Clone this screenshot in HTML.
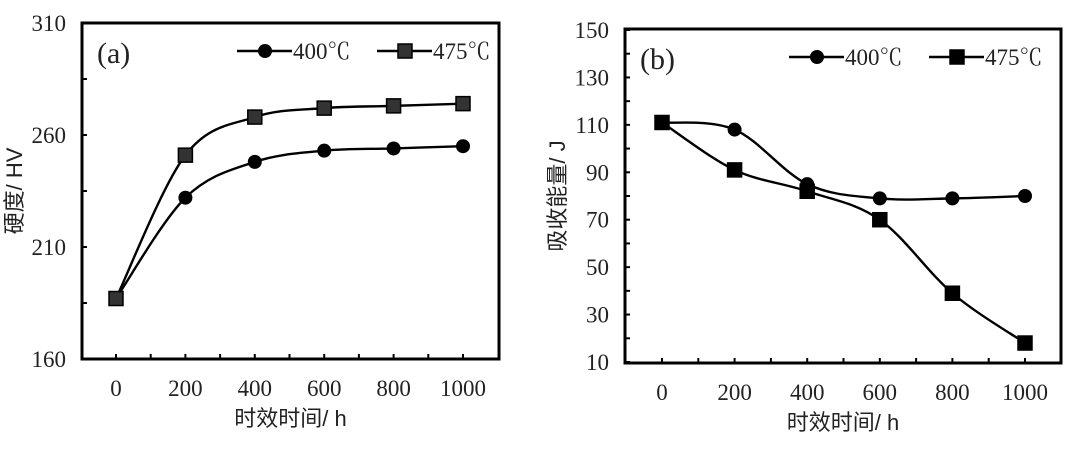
<!DOCTYPE html>
<html><head><meta charset="utf-8"><style>
body{margin:0;background:#fff;width:1080px;height:451px;overflow:hidden}
svg text{font-family:"Liberation Serif","Noto Serif CJK SC",serif;fill:#222}
.cjk{font-family:"Liberation Sans","Noto Sans CJK SC",sans-serif}
</style></head><body>
<svg id="c" width="1080" height="451"></svg>
<script>
const xCats=[0,200,400,600,800,1000];
const xTickLabels=["0","200","400","600","800","1000"];
const hv400=[187,232,248,253,254,255];
const hv475=[187,251,268,272,273,274];
const hvTicks=[160,210,260,310];
const e400=[111,108,85,79,79,80];
const e475=[111,91,82,70,39,18];
const eTicks=[10,30,50,70,90,110,130,150];
const NS="http://www.w3.org/2000/svg";
const svg=document.getElementById('c');
function mk(t,a,p){const e=document.createElementNS(NS,t);for(const k in a)e.setAttribute(k,a[k]);(p||svg).appendChild(e);return e;}
function smooth(pts){let d=`M${pts[0][0]},${pts[0][1]}`;for(let i=0;i<pts.length-1;i++){const p0=pts[Math.max(0,i-1)],p1=pts[i],p2=pts[i+1],p3=pts[Math.min(pts.length-1,i+2)];const t=1/6;d+=` C${p1[0]+(p2[0]-p0[0])*t},${p1[1]+(p2[1]-p0[1])*t} ${p2[0]-(p3[0]-p1[0])*t},${p2[1]-(p3[1]-p1[1])*t} ${p2[0]},${p2[1]}`;}return d;}
function panel(o){
  const g=mk('g',{});
  
  
  const X=v=>o.x0+(v-0)/1000*(o.x1-o.x0);
  const Y=v=>o.yb-(v-o.ymin)/(o.ymax-o.ymin)*(o.yb-o.yt);
  const fr=mk('rect',{x:o.L,y:o.T,width:o.R-o.L,height:o.B-o.T,fill:'none',stroke:'#000','stroke-width':3},g);
  
  for(let v=o.ymin;v<=o.ymax+1e-9;v+=o.minor){mk('line',{x1:o.L,x2:o.L+5,y1:Y(v),y2:Y(v),stroke:'#000','stroke-width':2},g);}
  o.ticks.forEach(v=>{const t=mk('text',{x:o.L-16,y:Y(v)+8,'text-anchor':'end','font-size':23},g);t.textContent=v;});
  for(let v=0;v<=1000;v+=100){mk('line',{x1:X(v),x2:X(v),y1:o.B,y2:o.B-5,stroke:'#000','stroke-width':2},g);}
  xCats.forEach((v,i)=>{const t=mk('text',{x:X(v),y:o.B+37,'text-anchor':'middle','font-size':23},g);t.textContent=xTickLabels[i];});
  const xt=mk('text',{x:(o.L+o.R)/2,y:o.B+67,'text-anchor':'middle','font-size':22,class:'cjk'},g);xt.textContent='时效时间/ h';
  const cy=(o.T+o.B)/2;const yt=mk('text',{x:0,y:0,'text-anchor':'middle','font-size':22,class:'cjk',transform:`translate(${o.L-60},${cy}) rotate(-90)`},g);yt.textContent=o.ytitle;
  const pl=mk('text',{x:o.L+15,y:o.T+40,'font-size':30},g);pl.textContent=o.label;
  [[o.s1,'circle'],[o.s2,'square']].forEach(([s,m],k)=>{
    const pts=s.map((v,i)=>[X(xCats[i]),Y(v)]);
    const p=mk('path',{d:smooth(pts),fill:'none',stroke:'#000','stroke-width':2.4},g);
    
    pts.forEach(q=>{let e;if(m==='circle')e=mk('circle',{cx:q[0],cy:q[1],r:7,fill:'#000'},g);else e=mk('rect',{x:q[0]-7,y:q[1]-7,width:14,height:14,fill:o.sqFill,stroke:'#000','stroke-width':1.5},g);
      });
  });
  const ly=o.T+28;
  [[o.lg1,'circle','400℃'],[o.lg2,'square','475℃']].forEach(([lx,m,txt])=>{
    const lg=mk('g',{},g);
    mk('line',{x1:lx,x2:lx+55,y1:ly,y2:ly,stroke:'#000','stroke-width':2.4},lg);
    if(m==='circle')mk('circle',{cx:lx+28,cy:ly,r:7,fill:'#000'},lg);else mk('rect',{x:lx+21,y:ly-7,width:14,height:14,fill:o.sqFill,stroke:'#000','stroke-width':1.5},lg);
    const t=mk('text',{x:lx+56,y:ly+8,'font-size':23},lg);t.textContent=txt;
  });
}
panel({name:'chart-a',L:82,R:499,T:23,B:359,x0:116,x1:463,yb:359,yt:23,ymin:160,ymax:310,minor:25,ticks:hvTicks,ytitle:'硬度/ HV',label:'(a)',s1:hv400,s2:hv475,sqFill:'#333',lg1:237,lg2:377});
panel({name:'chart-b',L:625,R:1061,T:29,B:363,x0:662,x1:1025,yb:362,yt:30,ymin:10,ymax:150,minor:10,ticks:eTicks,ytitle:'吸收能量/ J',label:'(b)',s1:e400,s2:e475,sqFill:'#000',lg1:789,lg2:929});
</script>
</body></html>
